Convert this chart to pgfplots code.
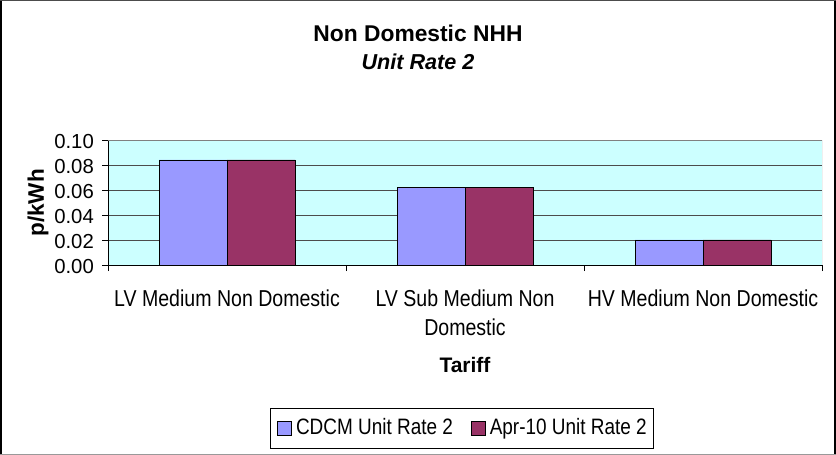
\documentclass[border=0pt]{standalone}
\usepackage{pgfplots}
\pgfplotsset{compat=1.18}
\usepackage{fontspec}
\setmainfont{Liberation Sans}
\newfontfamily\tallfont[FakeStretch=0.85]{Liberation Sans}
\definecolor{cdcm}{HTML}{9999FF}
\definecolor{apr}{HTML}{993366}
\definecolor{bgc}{HTML}{CCFFFF}
\newcommand\fs[2]{\fontsize{#1bp}{#2bp}\selectfont}
\begin{document}
\begin{tikzpicture}
\useasboundingbox (0,0) rectangle (836bp,455bp);
\fill[white] (0,0) rectangle (836bp,455bp);
\begin{axis}[
  at={(108bp,190bp)}, anchor=south west,
  scale only axis, width=714bp, height=125bp,
  xmin=-0.5, xmax=2.5, ymin=0, ymax=0.1,
  axis x line*=bottom, axis y line*=left,
  axis line style={black, line width=0.9bp},
  axis background/.style={fill=bgc},
  ymajorgrids, grid style={black!70, line width=0.8bp},
  tick align=outside, major tick length=6bp,
  tick style={black, line width=0.8bp},
  ytick={0,0.02,0.04,0.06,0.08,0.1},
  /pgf/number format/assume math mode=true,
  yticklabel style={/pgf/number format/.cd, fixed, fixed zerofill, precision=2, /tikz/.cd,
    font=\fs{20.3}{24}, anchor=east, inner sep=0pt, xshift=-8bp, yshift=-1.5bp},
  xtick={-0.5,0.5,1.5,2.5}, xticklabels={},
  extra x ticks={0,1,2},
  extra x tick labels={LV Medium Non Domestic, {LV Sub Medium Non\\Domestic}, HV Medium Non Domestic},
  extra x tick style={major tick length=0pt, tick style={draw=none}},
  xticklabel style={font=\tallfont\fs{23}{29}, align=center, anchor=north, inner sep=0pt, yshift=-24.2bp},
  ybar, bar width=0.2857,
  legend style={at={(axis description cs:0.4958,-1.304)}, anchor=center,
    draw=black, line width=0.8bp, fill=white, inner xsep=7bp, inner ysep=10bp,
    legend columns=2,
    nodes={inner sep=0pt, text height=16bp, text depth=4bp, font=\tallfont\fs{22.3}{24}},
    /tikz/every odd column/.append style={column sep=4bp},
    /tikz/every even column/.append style={column sep=18bp}},
  legend image code/.code={\draw[#1, line width=0.8bp] (0bp,-7bp) rectangle (14bp,7bp);},
]
\addplot[fill=cdcm, draw=black, line width=0.9bp, bar shift=-0.14286] coordinates {(0,0.084) (1,0.062) (2,0.020)};
\addplot[fill=apr, draw=black, line width=0.9bp, bar shift=0.14286] coordinates {(0,0.084) (1,0.062) (2,0.020)};
\legend{CDCM Unit Rate 2, Apr-10 Unit Rate 2}
\draw[black!50, line width=0.9bp] (rel axis cs:0,1) -- (rel axis cs:1,1) -- (rel axis cs:1,0);
\end{axis}
\node[anchor=base, inner sep=0pt, font=\fs{22.8}{26}\bfseries] at (418bp,413bp) {Non Domestic NHH};
\node[anchor=base, inner sep=0pt, font=\fs{21.6}{26}\bfseries\itshape] at (418bp,385bp) {Unit Rate 2};
\node[rotate=90, inner sep=0pt, font=\fs{22.5}{26}\bfseries] at (38bp,252bp) {p/kWh};
\node[anchor=base, inner sep=0pt, font=\fs{21}{24}\bfseries] at (465bp,82bp) {Tariff};
\draw[black, line width=2bp] (1bp,0) -- (1bp,455bp);
\draw[black, line width=2bp] (835bp,0) -- (835bp,455bp);
\draw[black!70, line width=1.5bp] (0,454.25bp) -- (836bp,454.25bp);
\draw[black!40, line width=1.5bp] (0,0.75bp) -- (836bp,0.75bp);
\end{tikzpicture}
\end{document}
